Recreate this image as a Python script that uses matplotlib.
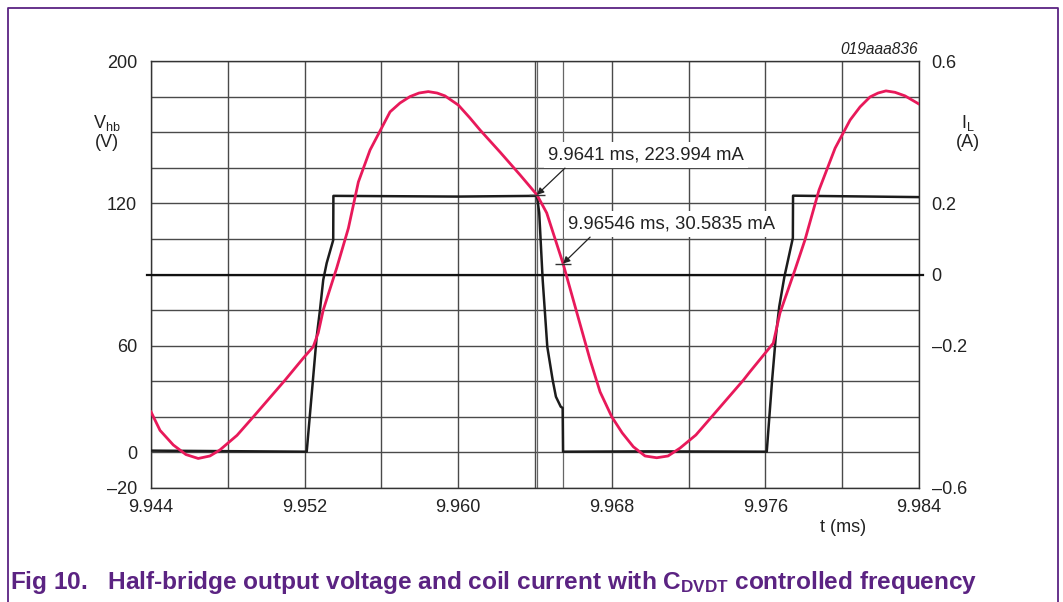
import numpy as np
import matplotlib
matplotlib.use("Agg")
import matplotlib.pyplot as plt
from matplotlib.ticker import FixedLocator, NullFormatter
from matplotlib.lines import Line2D

plt.rcParams['font.family'] = ['Liberation Sans', 'DejaVu Sans']
plt.rcParams['mathtext.fontset'] = 'custom'
plt.rcParams['mathtext.rm'] = 'Liberation Sans'
plt.rcParams['mathtext.it'] = 'Liberation Sans:italic'
plt.rcParams['mathtext.bf'] = 'Liberation Sans:bold'

# ---------------- data ----------------
# coil current I_L (A) vs time (ms)
t_IL = [9.94400, 9.94447, 9.94516, 9.94582, 9.94646, 9.94707, 9.94759, 9.94848,
        9.94933, 9.95098, 9.95193, 9.95245, 9.95271, 9.95297, 9.95367, 9.95428,
        9.95480, 9.95541, 9.95645, 9.95697, 9.95749, 9.95796, 9.95844, 9.95890,
        9.95931, 9.96001, 9.96061, 9.96114, 9.96218, 9.96322, 9.96410, 9.96461,
        9.96546, 9.96687, 9.96739, 9.96800, 9.96854, 9.96912, 9.96973, 9.97034,
        9.97093, 9.97155, 9.97238, 9.97320, 9.97485, 9.97520, 9.97641, 9.97676,
        9.97754, 9.97806, 9.97879, 9.97963, 9.98041, 9.98093, 9.98145, 9.98187,
        9.98228, 9.98275, 9.98327, 9.98400]
IL = [-0.386, -0.438, -0.479, -0.506, -0.517, -0.510, -0.493, -0.452,
      -0.400, -0.297, -0.235, -0.203, -0.164, -0.100, 0.018, 0.130,
      0.260, 0.350, 0.457, 0.482, 0.500, 0.510, 0.514, 0.510,
      0.502, 0.476, 0.440, 0.406, 0.344, 0.280, 0.224, 0.173,
      0.031, -0.240, -0.330, -0.400, -0.445, -0.484, -0.510, -0.515,
      -0.510, -0.488, -0.451, -0.400, -0.297, -0.273, -0.193, -0.108,
      0.013, 0.097, 0.237, 0.355, 0.434, 0.471, 0.499, 0.510,
      0.516, 0.512, 0.502, 0.479]

# half-bridge voltage V_hb (V) vs time (ms)
t_Vhb = [9.94400, 9.95211, 9.95263, 9.95280, 9.95297, 9.95315, 9.95349, 9.95350,
         9.96000, 9.96410, 9.96422, 9.96440, 9.96452, 9.96464, 9.96492, 9.96509,
         9.96534, 9.96544, 9.96546, 9.97000, 9.97607, 9.97635, 9.97654, 9.97672,
         9.97699, 9.97743, 9.97744, 9.98400]
Vhb = [1.0, 0.4, 63.8, 75.0, 87.7, 94.8, 104.5, 124.2,
       123.8, 124.2, 116.0, 87.7, 73.7, 59.4, 40.7, 31.3,
       25.7, 25.0, 0.4, 0.6, 0.4, 40.7, 63.6, 76.4,
       89.1, 105.4, 124.3, 123.5]

# cursor readouts
cursor_t = [9.9641, 9.96546]          # ms
cursor_I = [0.223994, 0.0305835]      # A

# axes ticks / labels
x_ticks = [9.944, 9.952, 9.960, 9.968, 9.976, 9.984]
x_labels = ['9.944', '9.952', '9.960', '9.968', '9.976', '9.984']
v_ticks = [-20, 0, 60, 120, 200]
v_labels = ['\u201320', '0', '60', '120', '200']
i_ticks = [-0.6, -0.2, 0.0, 0.2, 0.6]
i_labels = ['\u20130.6', '\u20130.2', '0', '0.2', '0.6']

# ---------------- styling ----------------
W, H = 1063, 602
RED = '#e8195a'
BLK = '#1c1c1c'
GRID = '#4a4a4a'
PURPLE = '#5b2382'
TXT = '#222222'
FS = 13

fig = plt.figure(figsize=(W / 100, H / 100), dpi=100)
fig.patch.set_facecolor('white')

def fx(px):
    return px / W

def fy(py):
    return 1 - py / H

ax = fig.add_axes([fx(151), fy(488), 768 / W, 427 / H])

# the printed voltage scale is piecewise (grid rows of the current axis)
grid_rows = [0, 1, 4, 8, 12]

def v_fwd(v):
    return np.interp(np.asarray(v, dtype=float), v_ticks, grid_rows)

def v_inv(p):
    return np.interp(np.asarray(p, dtype=float), grid_rows, v_ticks)

ax.set_yscale('function', functions=(v_fwd, v_inv))
ax.set_xlim(x_ticks[0], x_ticks[-1])
ax.set_ylim(v_ticks[0], v_ticks[-1])
ax.set_xticks(x_ticks)
ax.set_xticklabels(x_labels)
ax.xaxis.set_minor_locator(FixedLocator(np.linspace(x_ticks[0], x_ticks[-1], 11)))
ax.set_yticks(v_ticks)
ax.set_yticklabels(v_labels)
ax.yaxis.set_minor_locator(FixedLocator(v_inv(np.arange(13))))
ax.yaxis.set_minor_formatter(NullFormatter())
ax.xaxis.set_minor_formatter(NullFormatter())
ax.grid(which='both', color=GRID, lw=1.0)
ax.set_axisbelow(True)
ax.tick_params(which='both', length=0, labelsize=FS, colors=TXT)
ax.tick_params(axis='y', pad=10)
ax.tick_params(axis='x', pad=8)
for s in ax.spines.values():
    s.set_color('#333333')
    s.set_linewidth(1.0)

# cursor lines
for t in cursor_t:
    ax.axvline(t, color='#666666', lw=0.9, zorder=1.5)

ax.plot(t_Vhb, Vhb, color=BLK, lw=1.8, solid_joinstyle='round', zorder=3)

ax2 = ax.twinx()
ax2.set_ylim(i_ticks[0], i_ticks[-1])
ax2.set_yticks(i_ticks)
ax2.set_yticklabels(i_labels)
ax2.tick_params(length=0, labelsize=FS, pad=9, colors=TXT)
for s in ax2.spines.values():
    s.set_visible(False)

ax2.axhline(0, color='#111111', lw=1.6, xmin=-0.005, xmax=1.005, clip_on=False, zorder=2)
ax2.plot(t_IL, IL, color=RED, lw=2.0, solid_joinstyle='round', zorder=3)

# cursor markers and readouts
ax2.plot(cursor_t, cursor_I, ls='none', marker='_', markersize=11, mew=1.0,
         color='#333333', zorder=4)
text_pos = [(9.96978, 0.336), (9.97113, 0.142)]
arrow_tail = [(9.96556, 0.299), (9.96687, 0.105)]
for t, i, (tx, ty), tail in zip(cursor_t, cursor_I, text_pos, arrow_tail):
    ax2.text(tx, ty, f"{t} ms, {i * 1000:g} mA", ha='center', va='center',
             fontsize=13.3, color=TXT, zorder=5,
             bbox=dict(fc='white', ec='none', pad=3))
    ax2.annotate('', xy=(t, i), xytext=tail, zorder=6,
                 arrowprops=dict(arrowstyle='-|>', color=TXT, lw=0.9,
                                 mutation_scale=10, shrinkA=0, shrinkB=0))

# axis titles
fig.text(fx(107), fy(123), r'V$_\mathrm{hb}$', ha='center', va='center', fontsize=FS, color=TXT)
fig.text(fx(107), fy(143), '(V)', ha='center', va='center', fontsize=FS, color=TXT)
fig.text(fx(968), fy(123), r'I$_\mathrm{L}$', ha='center', va='center', fontsize=FS, color=TXT)
fig.text(fx(968), fy(143), '(A)', ha='center', va='center', fontsize=FS, color=TXT)
fig.text(fx(843), fy(527), 't (ms)', ha='center', va='center', fontsize=FS, color=TXT)
fig.text(fx(918), fy(50), '019aaa836', ha='right', va='center', fontsize=11.2,
         style='italic', color=TXT)

# caption
fig.text(fx(10), fy(583),
         r'Fig 10.   Half-bridge output voltage and coil current with C$_\mathbf{DVDT}$ controlled frequency',
         ha='left', va='center', fontsize=17.6, fontweight='bold', color=PURPLE)

# frame
fig.add_artist(Line2D([fx(8), fx(8), fx(1058), fx(1058)], [0, fy(8), fy(8), 0],
                      color=PURPLE, lw=1.3, transform=fig.transFigure))

fig.savefig('out.png', dpi=100)
